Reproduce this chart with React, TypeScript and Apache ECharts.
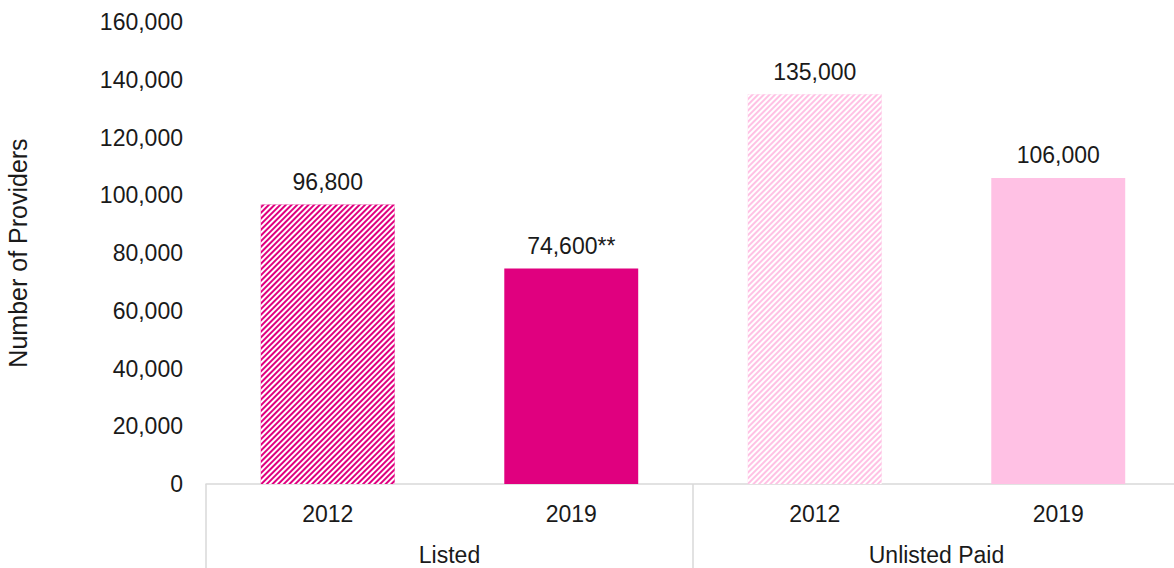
import React, { useEffect, useRef } from "react";
import * as echarts from "echarts";

const years = ["2012", "2019", "2012", "2019"];
const groups = ["Listed", "Unlisted Paid"];
const values = [96800, 74600, 135000, 106000];
const valueLabels = ["96,800", "74,600**", "135,000", "106,000"];
const barColors = ["#E0007F", "#E0007F", "#FFC1E4", "#FFC1E4"];
const hatched = [true, false, true, false];

const FONT = "'Liberation Sans', Arial, sans-serif";
const TXT = "#1a1a1a";

export default function App() {
  const ref = useRef<HTMLDivElement>(null);
  useEffect(() => {
    if (!ref.current) return;
    const chart = echarts.init(ref.current, undefined, { renderer: "svg" });
    const data = values.map((v, i) => ({
      value: v,
      itemStyle: {
        color: barColors[i],
        decal: hatched[i]
          ? {
              symbol: "rect",
              color: "#ffffff",
              dashArrayX: [1, 0],
              dashArrayY: [2, 2],
              rotation: -Math.PI / 4,
            }
          : undefined,
      },
      label: { formatter: valueLabels[i] },
    }));
    chart.setOption({
      animation: false,
      textStyle: { fontFamily: FONT },
      grid: {
        left: 206,
        width: 974,
        top: 22,
        height: 462,
        containLabel: false,
        outerBoundsMode: "none",
      },
      xAxis: [
        {
          type: "category",
          data: years,
          position: "bottom",
          axisLine: { show: true, lineStyle: { color: "#d9d9d9", width: 1.5 } },
          axisTick: { show: false },
          axisLabel: { margin: 18, fontSize: 23, color: TXT, fontFamily: FONT },
        },
        {
          type: "category",
          data: groups,
          position: "bottom",
          axisLine: { show: false },
          axisTick: { show: true, length: 84, lineStyle: { color: "#d9d9d9", width: 1.5 } },
          axisLabel: { margin: 59, fontSize: 23, color: TXT, fontFamily: FONT },
        },
      ],
      yAxis: {
        type: "value",
        min: 0,
        max: 160000,
        interval: 20000,
        name: "Number of Providers",
        nameLocation: "middle",
        nameGap: 176,
        nameTextStyle: { fontSize: 25, color: TXT, fontFamily: FONT },
        axisLine: { show: false },
        axisTick: { show: false },
        splitLine: { show: false },
        axisLabel: {
          margin: 23,
          fontSize: 23,
          color: TXT,
          fontFamily: FONT,
          formatter: (v: number) => v.toLocaleString("en-US"),
        },
      },
      series: [
        {
          type: "bar",
          xAxisIndex: 0,
          barWidth: "55%",
          data,
          label: {
            show: true,
            position: "top",
            distance: 11,
            fontSize: 23,
            color: TXT,
            fontFamily: FONT,
          },
        },
      ],
    });
    return () => chart.dispose();
  }, []);
  return (
    <div
      ref={ref}
      style={{ position: "fixed", left: 0, top: 0, width: 1174, height: 568, background: "#fff" }}
    />
  );
}
